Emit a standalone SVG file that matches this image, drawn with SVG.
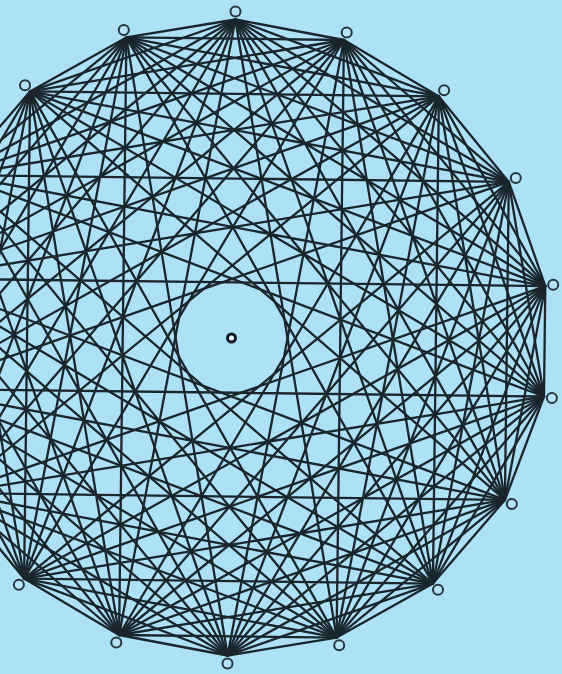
<svg xmlns="http://www.w3.org/2000/svg" width="562" height="674" viewBox="0 0 562 674">
<style>
.e{fill:none;stroke:#1a252c;stroke-width:2.3;stroke-linejoin:round}
.m{fill:#b4e5f7;stroke:#26363e;stroke-width:2}
</style>
<rect width="562" height="674" fill="#ade1f5"/>
<g id="connectors" class="e">
<polygon points="235.4,19.5 343.9,40.0 438.9,96.4 508.8,181.9 545.3,286.1 544.0,396.5 504.9,499.9 432.9,583.6 336.6,637.6 227.6,655.5 119.1,635.0 24.1,578.6 -45.8,493.1 -82.3,388.9 -81.0,278.5 -41.9,175.1 30.1,91.4 126.4,37.4"/>
<polygon points="235.4,19.5 438.9,96.4 545.3,286.1 504.9,499.9 336.6,637.6 119.1,635.0 -45.8,493.1 -81.0,278.5 30.1,91.4"/>
<polygon points="343.9,40.0 508.8,181.9 544.0,396.5 432.9,583.6 227.6,655.5 24.1,578.6 -82.3,388.9 -41.9,175.1 126.4,37.4"/>
<polygon points="235.4,19.5 508.8,181.9 504.9,499.9 227.6,655.5 -45.8,493.1 -41.9,175.1"/>
<polygon points="343.9,40.0 545.3,286.1 432.9,583.6 119.1,635.0 -82.3,388.9 30.1,91.4"/>
<polygon points="438.9,96.4 544.0,396.5 336.6,637.6 24.1,578.6 -81.0,278.5 126.4,37.4"/>
<polygon points="235.4,19.5 545.3,286.1 336.6,637.6 -45.8,493.1 30.1,91.4 438.9,96.4 504.9,499.9 119.1,635.0 -81.0,278.5"/>
<polygon points="343.9,40.0 544.0,396.5 227.6,655.5 -82.3,388.9 126.4,37.4 508.8,181.9 432.9,583.6 24.1,578.6 -41.9,175.1"/>
<polygon points="235.4,19.5 544.0,396.5 119.1,635.0 -41.9,175.1 438.9,96.4 432.9,583.6 -45.8,493.1 126.4,37.4 545.3,286.1 227.6,655.5 -81.0,278.5 343.9,40.0 504.9,499.9 24.1,578.6 30.1,91.4 508.8,181.9 336.6,637.6 -82.3,388.9"/>
<polygon points="235.4,19.5 504.9,499.9 -45.8,493.1"/>
<polygon points="343.9,40.0 432.9,583.6 -82.3,388.9"/>
<polygon points="438.9,96.4 336.6,637.6 -81.0,278.5"/>
<polygon points="508.8,181.9 227.6,655.5 -41.9,175.1"/>
<polygon points="545.3,286.1 119.1,635.0 30.1,91.4"/>
<polygon points="544.0,396.5 24.1,578.6 126.4,37.4"/>
<polygon points="235.4,19.5 432.9,583.6 -81.0,278.5 508.8,181.9 119.1,635.0 126.4,37.4 504.9,499.9 -82.3,388.9 438.9,96.4 227.6,655.5 30.1,91.4 544.0,396.5 -45.8,493.1 343.9,40.0 336.6,637.6 -41.9,175.1 545.3,286.1 24.1,578.6"/>
<polygon points="235.4,19.5 336.6,637.6 30.1,91.4 504.9,499.9 -81.0,278.5 545.3,286.1 -45.8,493.1 438.9,96.4 119.1,635.0"/>
<polygon points="343.9,40.0 227.6,655.5 126.4,37.4 432.9,583.6 -41.9,175.1 544.0,396.5 -82.3,388.9 508.8,181.9 24.1,578.6"/>
</g>
<g id="v0"><circle class="m" cx="235.5" cy="11.5" r="5"/></g>
<g id="v1"><circle class="m" cx="346.7" cy="32.5" r="5"/></g>
<g id="v2"><circle class="m" cx="444.1" cy="90.3" r="5"/></g>
<g id="v3"><circle class="m" cx="515.8" cy="178.0" r="5"/></g>
<g id="v4"><circle class="m" cx="553.2" cy="284.8" r="5"/></g>
<g id="v5"><circle class="m" cx="551.9" cy="398.0" r="5"/></g>
<g id="v6"><circle class="m" cx="511.8" cy="504.0" r="5"/></g>
<g id="v7"><circle class="m" cx="438.0" cy="589.8" r="5"/></g>
<g id="v8"><circle class="m" cx="339.2" cy="645.2" r="5"/></g>
<g id="v9"><circle class="m" cx="227.5" cy="663.5" r="5"/></g>
<g id="v10"><circle class="m" cx="116.3" cy="642.5" r="5"/></g>
<g id="v11"><circle class="m" cx="18.9" cy="584.7" r="5"/></g>
<g id="v16"><circle class="m" cx="25.0" cy="85.2" r="5"/></g>
<g id="v17"><circle class="m" cx="123.8" cy="29.9" r="5"/></g>
<g id="center"><circle cx="231.5" cy="338" r="4" fill="#f0fbff" stroke="#111a20" stroke-width="3"/></g>
</svg>
